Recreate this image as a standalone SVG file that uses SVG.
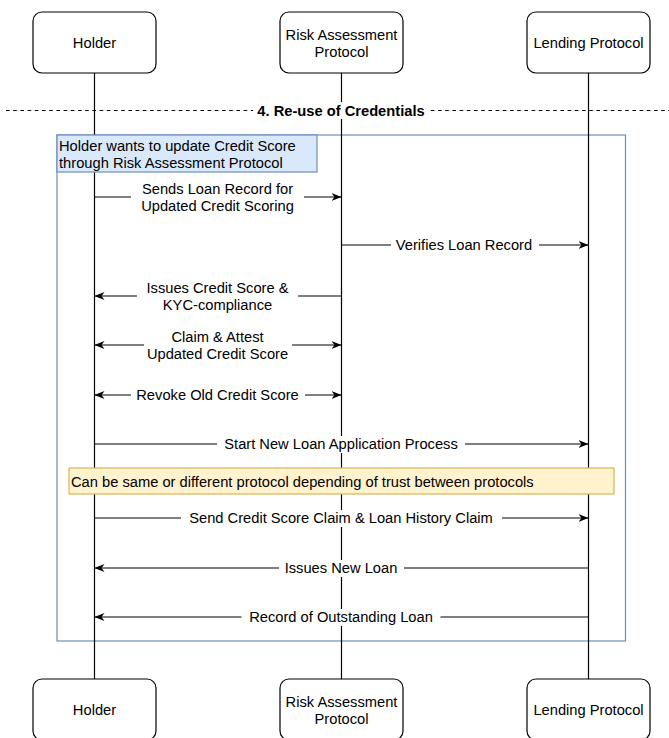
<svg xmlns="http://www.w3.org/2000/svg" width="669" height="738" viewBox="0 0 669 738">
  <style>
    text { font-family: "Liberation Sans", Arial, Helvetica, sans-serif; font-size: 14.7px; fill: #000000; }
    .c { text-anchor: middle; }
    .b { font-weight: bold; }
    .actor { fill: #ffffff; stroke: #000000; stroke-width: 1.2; }
    .life { stroke: #000000; stroke-width: 1.2; fill: none; }
    .msg { stroke: #000000; stroke-width: 1.2; fill: none; }
    .lbl { fill: #ffffff; stroke: none; }
    .frame { fill: none; stroke: #6c8ebf; stroke-width: 1.2; }
    .noteBlue { fill: #dae8fc; stroke: #6c8ebf; stroke-width: 1.2; }
    .noteYellow { fill: #fff2cc; stroke: #d6b656; stroke-width: 1.2; }
    .sep { stroke: #000000; stroke-width: 1.2; stroke-dasharray: 3.6 3.6; fill: none; }
  </style>
  <defs>
    <marker id="arrowEnd" viewBox="0 0 10 10" refX="10" refY="5" markerWidth="10" markerHeight="10" markerUnits="userSpaceOnUse" orient="auto">
      <path d="M0,1 L10,5 L0,9 L3,5 Z" fill="#000000"/>
    </marker>
    <marker id="arrowStart" viewBox="0 0 10 10" refX="0" refY="5" markerWidth="10" markerHeight="10" markerUnits="userSpaceOnUse" orient="auto">
      <path d="M10,1 L0,5 L10,9 L7,5 Z" fill="#000000"/>
    </marker>
  </defs>

  <!-- fragment frame -->
  <rect class="frame" x="57" y="135" width="568.5" height="506"/>

  <!-- lifelines -->
  <g id="lifelines">
    <line class="life" x1="94.5" y1="73" x2="94.5" y2="679"/>
    <line class="life" x1="341.5" y1="73" x2="341.5" y2="679"/>
    <line class="life" x1="588.5" y1="73" x2="588.5" y2="679"/>
  </g>

  <!-- section separator -->
  <g id="separator">
    <line class="sep" x1="6" y1="110.5" x2="669" y2="110.5"/>
    <rect class="lbl" x="253" y="102" width="175" height="17"/>
    <text class="b c" x="341" y="115.5">4. Re-use of Credentials</text>
  </g>

  <!-- notes -->
  <g id="note-update">
    <rect class="noteBlue" x="57" y="135" width="260" height="37"/>
    <text x="59" y="151">Holder wants to update Credit Score</text>
    <text x="59" y="168">through Risk Assessment Protocol</text>
  </g>
  <g id="note-trust">
    <rect class="noteYellow" x="69" y="468" width="545" height="26"/>
    <text x="71" y="486.5">Can be same or different protocol depending of trust between protocols</text>
  </g>

  <!-- messages -->
  <g id="connectors">
    <line class="msg" x1="94.5" y1="197" x2="341.5" y2="197" marker-end="url(#arrowEnd)"/>
    <line class="msg" x1="341.5" y1="245" x2="588.5" y2="245" marker-end="url(#arrowEnd)"/>
    <line class="msg" x1="341.5" y1="296" x2="94.5" y2="296" marker-end="url(#arrowEnd)"/>
    <line class="msg" x1="94.5" y1="345" x2="341.5" y2="345" marker-start="url(#arrowStart)" marker-end="url(#arrowEnd)"/>
    <line class="msg" x1="94.5" y1="395" x2="341.5" y2="395" marker-start="url(#arrowStart)" marker-end="url(#arrowEnd)"/>
    <line class="msg" x1="94.5" y1="444" x2="588.5" y2="444" marker-end="url(#arrowEnd)"/>
    <line class="msg" x1="94.5" y1="518" x2="588.5" y2="518" marker-end="url(#arrowEnd)"/>
    <line class="msg" x1="588.5" y1="568" x2="94.5" y2="568" marker-end="url(#arrowEnd)"/>
    <line class="msg" x1="588.5" y1="617" x2="94.5" y2="617" marker-end="url(#arrowEnd)"/>

    <!-- message labels -->
    <rect class="lbl" x="131" y="180" width="173" height="34"/>
    <text class="c" x="217.5" y="194">Sends Loan Record for</text>
    <text class="c" x="217.5" y="211">Updated Credit Scoring</text>

    <rect class="lbl" x="391" y="237" width="148" height="17"/>
    <text class="c" x="464" y="250">Verifies Loan Record</text>

    <rect class="lbl" x="137" y="279" width="161" height="34"/>
    <text class="c" x="217.5" y="293">Issues Credit Score &amp;</text>
    <text class="c" x="217.5" y="310">KYC-compliance</text>

    <rect class="lbl" x="144" y="328" width="148" height="34"/>
    <text class="c" x="217.5" y="342">Claim &amp; Attest</text>
    <text class="c" x="217.5" y="359">Updated Credit Score</text>

    <rect class="lbl" x="131" y="387" width="174" height="17"/>
    <text class="c" x="217.5" y="400">Revoke Old Credit Score</text>

    <rect class="lbl" x="217" y="436" width="248" height="17"/>
    <text class="c" x="341" y="449">Start New Loan Application Process</text>

    <rect class="lbl" x="181" y="510" width="321" height="17"/>
    <text class="c" x="341" y="523">Send Credit Score Claim &amp; Loan History Claim</text>

    <rect class="lbl" x="279" y="560" width="125" height="17"/>
    <text class="c" x="341" y="573">Issues New Loan</text>

    <rect class="lbl" x="241.5" y="609" width="199" height="17"/>
    <text class="c" x="341" y="622">Record of Outstanding Loan</text>
  </g>

  <!-- participants, top -->
  <g id="holder-top">
    <rect class="actor" x="33" y="12" width="123" height="61" rx="9"/>
    <text class="c" x="94.5" y="48">Holder</text>
  </g>
  <g id="risk-top">
    <rect class="actor" x="280" y="12" width="123" height="61" rx="9"/>
    <text class="c" x="341.5" y="40">Risk Assessment</text>
    <text class="c" x="341.5" y="57">Protocol</text>
  </g>
  <g id="lending-top">
    <rect class="actor" x="527" y="12" width="123" height="61" rx="9"/>
    <text class="c" x="588.5" y="48">Lending Protocol</text>
  </g>

  <!-- participants, bottom -->
  <g id="holder-bottom">
    <rect class="actor" x="33" y="679" width="123" height="61" rx="9"/>
    <text class="c" x="94.5" y="715">Holder</text>
  </g>
  <g id="risk-bottom">
    <rect class="actor" x="280" y="679" width="123" height="61" rx="9"/>
    <text class="c" x="341.5" y="707">Risk Assessment</text>
    <text class="c" x="341.5" y="724">Protocol</text>
  </g>
  <g id="lending-bottom">
    <rect class="actor" x="527" y="679" width="123" height="61" rx="9"/>
    <text class="c" x="588.5" y="715">Lending Protocol</text>
  </g>
</svg>
